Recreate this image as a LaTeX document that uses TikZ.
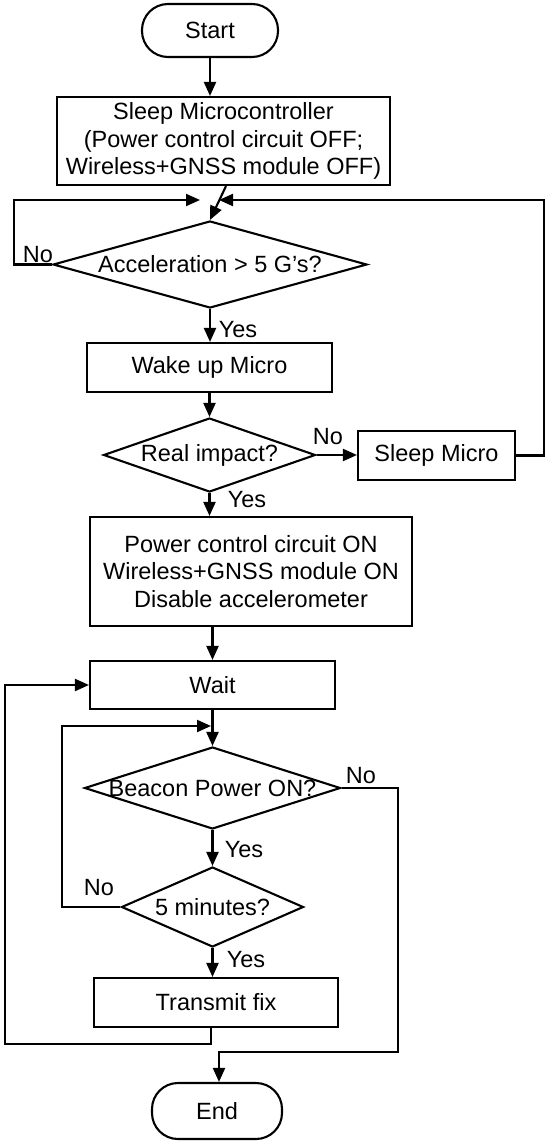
\documentclass[tikz,border=0pt]{standalone}
\usepackage{fontspec}
\setmainfont{Liberation Sans}
\usetikzlibrary{shapes.geometric,arrows.meta,calc}
\begin{document}
\begin{tikzpicture}[x=1pt,y=-1pt,
  every node/.style={font=\fontsize{23.5}{27.5}\selectfont, inner sep=0pt},
  proc/.style={draw, line width=2.1pt, rectangle, align=center},
  term/.style={draw, line width=2.1pt, rectangle, rounded corners=26pt},
  dec/.style={draw, line width=2.1pt, diamond},
  lbl/.style={},
  arr/.style={line width=2.1pt, -{Triangle[length=14pt,width=12pt]}},
  ln/.style={line width=2.1pt}
]
\useasboundingbox (0,0) rectangle (550,1143);

% nodes
\node[term, minimum width=136pt, minimum height=53pt] (start) at (210,30.5) {Start};
\node[proc, minimum width=333pt, minimum height=88pt] (sleep1) at (223.5,141)
  {Sleep Microcontroller\\(Power control circuit OFF;\\Wireless+GNSS module OFF)};
\node[dec, minimum width=314pt, minimum height=87pt] (accel) at (210,264.5)
  {\makebox[0pt]{Acceleration > 5 G’s?}};
\node[proc, minimum width=245pt, minimum height=49pt] (wake) at (209.5,367.5) {Wake up Micro};
\node[dec, minimum width=212pt, minimum height=74pt] (real) at (209.5,455)
  {\makebox[0pt]{Real impact?}};
\node[proc, minimum width=157pt, minimum height=49pt] (sleepm) at (436.5,455.5) {Sleep Micro};
\node[proc, minimum width=322pt, minimum height=109pt] (power) at (251,571.5)
  {Power control circuit ON\\Wireless+GNSS module ON\\Disable accelerometer};
\node[proc, minimum width=245pt, minimum height=48pt] (wait) at (212.5,685) {Wait};
\node[dec, minimum width=256pt, minimum height=82pt] (beacon) at (212.5,788)
  {\makebox[0pt]{Beacon Power ON?}};
\node[dec, minimum width=182pt, minimum height=80pt] (five) at (212.5,907)
  {\makebox[0pt]{5 minutes?}};
\node[proc, minimum width=244pt, minimum height=49pt] (transmit) at (216,1002.5) {Transmit fix};
\node[term, minimum width=130pt, minimum height=56pt] (end) at (217,1111) {End};

% labels
\node[lbl] (no1) at (38,255) {No};
\node[lbl] (yes1) at (238,330) {Yes};
\node[lbl] (no2) at (328,437) {No};
\node[lbl] (yes2) at (247,500) {Yes};
\node[lbl] (no3) at (361,776) {No};
\node[lbl] (yes3) at (244,850) {Yes};
\node[lbl] (no4) at (99,888) {No};
\node[lbl] (yes4) at (246,960) {Yes};

% helper coordinates
\coordinate (jl) at (200,200);
\coordinate (jr) at (219,200);
\coordinate (L1) at (14,200);
\coordinate (R1) at (544,200);
\coordinate (L2) at (62,726);
\coordinate (jb) at (211,726);
\coordinate (B1) at (5,1044);
\coordinate (R2) at (398,1052);

% connectors
\draw[arr] (start.south) -- (start.south |- sleep1.north);
\draw[arr] ($(sleep1.south)+(2.5,0)$) -- (accel.north);
\draw[arr] (accel.west) -| (L1) -- (jl);
\draw[arr] (sleepm.east) -| (R1) -- (jr);
\draw[arr] (accel.south) -- (accel.south |- wake.north);
\draw[arr] (real.north |- wake.south) -- (real.north);
\draw[arr] (real.east) -- (real.east -| sleepm.west);
\draw[arr] (real.south) -- (real.south |- power.north);
\draw[arr] (wait.north |- power.south) -- (wait.north);
\draw[arr] (wait.south) -- (beacon.north);
\draw[arr] (five.west) -| (L2) -- (jb);
\draw[arr] (beacon.south) -- (five.north);
\draw[arr] (five.south) -- (five.south |- transmit.north);
\draw[arr] ($(transmit.south)+(-5,0)$) |- (B1) |- (wait.west);
\draw[arr] (beacon.east) -| (R2) -| ($(end.north)+(2,0)$);
\end{tikzpicture}
\end{document}
